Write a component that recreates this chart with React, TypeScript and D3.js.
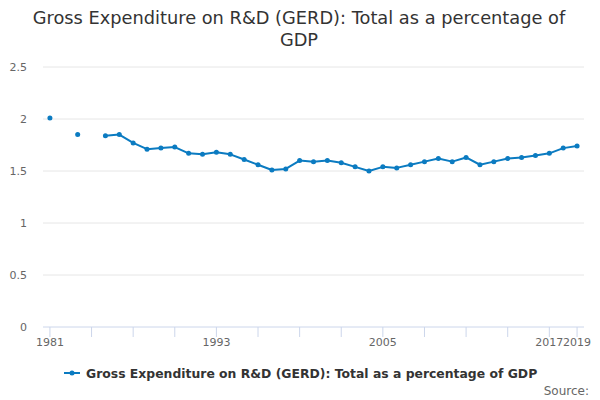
import React, { useEffect, useRef } from 'react';
import * as d3 from 'd3';

// GERD as % of GDP; null = no data for that year
const years: number[] = d3.range(1981, 2020);
const values: (number | null)[] = [
  2.01, null, 1.85, null, 1.84, 1.85, 1.77, 1.71, 1.72, 1.73,
  1.67, 1.66, 1.68, 1.66, 1.61, 1.56, 1.51, 1.52, 1.60, 1.59,
  1.60, 1.58, 1.54, 1.50, 1.54, 1.53, 1.56, 1.59, 1.62, 1.59,
  1.63, 1.56, 1.59, 1.62, 1.63, 1.65, 1.67, 1.72, 1.74,
];
const yTicks: number[] = [0, 0.5, 1, 1.5, 2, 2.5];
const xTicks: number[] = [1981, 1984, 1987, 1990, 1993, 1996, 1999, 2002, 2005, 2008, 2011, 2014, 2017, 2019];
const xLabels: number[] = [1981, 1993, 2005, 2017, 2019];

const seriesName = 'Gross Expenditure on R&D (GERD): Total as a percentage of GDP';
const color = '#0b7bc1';
const font = '"DejaVu Sans", sans-serif';

const App: React.FC = () => {
  const ref = useRef<SVGSVGElement>(null);

  useEffect(() => {
    if (!ref.current) return;
    const svg = d3.select(ref.current);
    svg.selectAll('*').remove();

    const left = 43, right = 584, top = 67, bottom = 327;

    const x = d3.scaleLinear().domain([1980.5, 2019.5]).range([left, right]);
    const y = d3.scaleLinear().domain([0, 2.5]).range([bottom, top]);

    svg.append('rect').attr('width', 600).attr('height', 400).attr('fill', '#fff');

    // title
    const title = svg.append('text')
      .attr('text-anchor', 'middle')
      .attr('fill', '#333333')
      .style('font-family', font)
      .style('font-size', '17.8px');
    title.append('tspan').attr('x', 299).attr('y', 24).text('Gross Expenditure on R&D (GERD): Total as a percentage of');
    title.append('tspan').attr('x', 299).attr('y', 46).text('GDP');

    // gridlines
    svg.append('g')
      .selectAll('line')
      .data(yTicks.filter(t => t > 0))
      .enter()
      .append('line')
      .attr('x1', left)
      .attr('x2', right)
      .attr('y1', d => y(d))
      .attr('y2', d => y(d))
      .attr('stroke', '#e6e6e6');

    // y labels
    svg.append('g')
      .selectAll('text')
      .data(yTicks)
      .enter()
      .append('text')
      .attr('x', 27)
      .attr('y', d => y(d) + 4)
      .attr('text-anchor', 'end')
      .attr('fill', '#666666')
      .style('font-family', font)
      .style('font-size', '11px')
      .text(d => String(d));

    // x axis
    const xAxis = svg.append('g').attr('transform', `translate(0,${bottom})`);
    xAxis.append('line')
      .attr('x1', left)
      .attr('x2', right)
      .attr('stroke', '#ccd6eb');
    xAxis.selectAll('.tick')
      .data(xTicks)
      .enter()
      .append('line')
      .attr('x1', d => x(d))
      .attr('x2', d => x(d))
      .attr('y1', 0)
      .attr('y2', 10)
      .attr('stroke', '#ccd6eb');
    xAxis.selectAll('text')
      .data(xLabels)
      .enter()
      .append('text')
      .attr('x', d => x(d))
      .attr('y', 19)
      .attr('text-anchor', 'middle')
      .attr('fill', '#666666')
      .style('font-family', font)
      .style('font-size', '11px')
      .text(d => String(d));

    const data = years.map((yr, i) => ({ yr, v: values[i] }));

    const line = d3.line<{ yr: number; v: number | null }>()
      .defined(d => d.v !== null)
      .x(d => x(d.yr))
      .y(d => y(d.v as number));

    svg.append('path')
      .datum(data)
      .attr('d', line)
      .attr('fill', 'none')
      .attr('stroke', color)
      .attr('stroke-width', 2)
      .attr('stroke-linejoin', 'round');

    svg.append('g')
      .selectAll('circle')
      .data(data.filter(d => d.v !== null))
      .enter()
      .append('circle')
      .attr('cx', d => x(d.yr))
      .attr('cy', d => y(d.v as number))
      .attr('r', 2.5)
      .attr('fill', color);

    // legend
    const legend = svg.append('g').attr('transform', 'translate(64,373)');
    legend.append('line')
      .attr('x1', 0)
      .attr('x2', 16)
      .attr('stroke', color)
      .attr('stroke-width', 2);
    legend.append('circle').attr('cx', 8).attr('r', 2.5).attr('fill', color);
    legend.append('text')
      .attr('x', 22)
      .attr('y', 4.5)
      .attr('fill', '#333333')
      .style('font-family', font)
      .style('font-size', '12.4px')
      .style('font-weight', 'bold')
      .text(seriesName);

    // credits
    svg.append('text')
      .attr('x', 589)
      .attr('y', 395)
      .attr('text-anchor', 'end')
      .attr('fill', '#666666')
      .style('font-family', font)
      .style('font-size', '12px')
      .text('Source:');
  }, []);

  return <svg ref={ref} width={600} height={400} style={{ display: 'block', position: 'absolute', left: 0, top: 0 }} />;
};

export default App;
